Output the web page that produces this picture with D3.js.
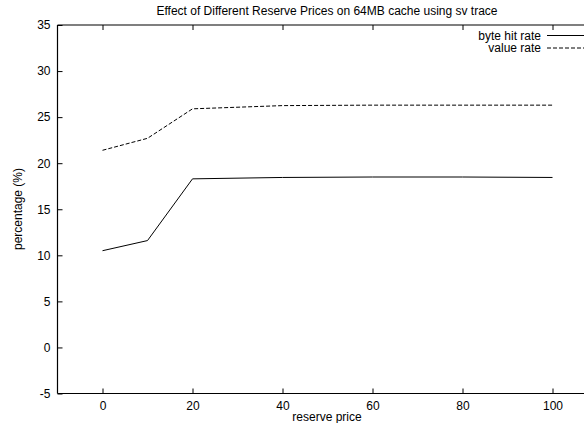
<!DOCTYPE html>
<html lang="en">
<head>
<meta charset="UTF-8">
<script src="https://d3js.org/d3.v7.min.js"></script>
<title>reserve prices</title>
<style>
  html, body { margin: 0; background: #fff; overflow: hidden; }
  svg { display: block; }
  svg text { font-family: "Liberation Sans", Arial, sans-serif; fill: #000; }
  .axis path, .axis line { stroke: #000; }
</style>
</head>
<body>
<svg id="chart" width="584" height="423"></svg>
<script>
// data
const prices = [0, 10, 20, 40, 60, 80, 100];
const byteHitRate = [10.5, 11.6, 18.3, 18.45, 18.5, 18.5, 18.45];
const valueRate = [21.4, 22.7, 25.9, 26.25, 26.3, 26.3, 26.3];
const xTicks = [0, 20, 40, 60, 80, 100];
const yTicks = [-5, 0, 5, 10, 15, 20, 25, 30, 35];
const seriesNames = ["byte hit rate", "value rate"];

const svg = d3.select("#chart");
const width = +svg.attr("width");
// the plot's right edge (x = 110) lies just past the picture, as in the original
const plotLeft = 57.5, plotRight = 597.5, plotTop = 25, plotBottom = 393.5;
const fontSize = 12;

const x = d3.scaleLinear().domain([-10, 110]).range([plotLeft, plotRight]);
const y = d3.scaleLinear().domain([-5, 35]).range([plotBottom, plotTop]);

// frame: left, top and bottom edges (the right one is off the picture)
const frame = svg.append("g").attr("stroke", "#000").attr("stroke-width", 1.2);
frame.append("line").attr("x1", plotLeft).attr("x2", plotLeft).attr("y1", plotTop).attr("y2", plotBottom);
frame.append("line").attr("x1", plotLeft).attr("x2", width).attr("y1", plotTop).attr("y2", plotTop);
frame.append("line").attr("x1", plotLeft).attr("x2", width).attr("y1", plotBottom).attr("y2", plotBottom);

// axes with inward ticks
svg.append("g").attr("class", "axis")
  .attr("transform", `translate(0,${plotBottom})`)
  .call(d3.axisBottom(x).tickValues(xTicks).tickFormat(String).tickSize(-5).tickPadding(8).tickSizeOuter(0))
  .call(g => g.select(".domain").remove())
  .selectAll("text").attr("font-size", fontSize);

svg.append("g").attr("class", "axis")
  .attr("transform", `translate(0,${plotTop})`)
  .call(d3.axisTop(x).tickValues(xTicks).tickSize(-5).tickFormat("").tickSizeOuter(0))
  .call(g => g.select(".domain").remove());

svg.append("g").attr("class", "axis")
  .attr("transform", `translate(${plotLeft},0)`)
  .call(d3.axisLeft(y).tickValues(yTicks).tickFormat(String).tickSize(-5).tickPadding(7).tickSizeOuter(0))
  .call(g => g.select(".domain").remove())
  .selectAll("text").attr("font-size", fontSize);

// lines
const line = d3.line().x(d => x(d[0])).y(d => y(d[1]));
const series = [
  { name: seriesNames[0], values: byteHitRate, dash: null },
  { name: seriesNames[1], values: valueRate, dash: "4,2" }
];

series.forEach((s, i) => {
  svg.append("path")
    .datum(prices.map((p, j) => [p, s.values[j]]))
    .attr("d", line)
    .attr("fill", "none")
    .attr("stroke", "#000")
    .attr("stroke-width", 1)
    .attr("stroke-dasharray", s.dash);

  // key
  const ky = 35.5 + i * 12.5;
  svg.append("text")
    .attr("x", 541).attr("y", ky + 4)
    .attr("text-anchor", "end")
    .attr("font-size", fontSize)
    .text(s.name);
  svg.append("line")
    .attr("x1", 547).attr("x2", width)
    .attr("y1", ky).attr("y2", ky)
    .attr("stroke", "#000").attr("stroke-width", 1)
    .attr("stroke-dasharray", s.dash);
});

// labels
svg.append("text")
  .attr("x", 327).attr("y", 15)
  .attr("text-anchor", "middle")
  .attr("font-size", fontSize)
  .text("Effect of Different Reserve Prices on 64MB cache using sv trace");

svg.append("text")
  .attr("x", 327).attr("y", 421)
  .attr("text-anchor", "middle")
  .attr("font-size", fontSize)
  .text("reserve price");

svg.append("text")
  .attr("transform", "translate(22,209) rotate(-90)")
  .attr("text-anchor", "middle")
  .attr("font-size", fontSize)
  .text("percentage (%)");
</script>
</body>
</html>
